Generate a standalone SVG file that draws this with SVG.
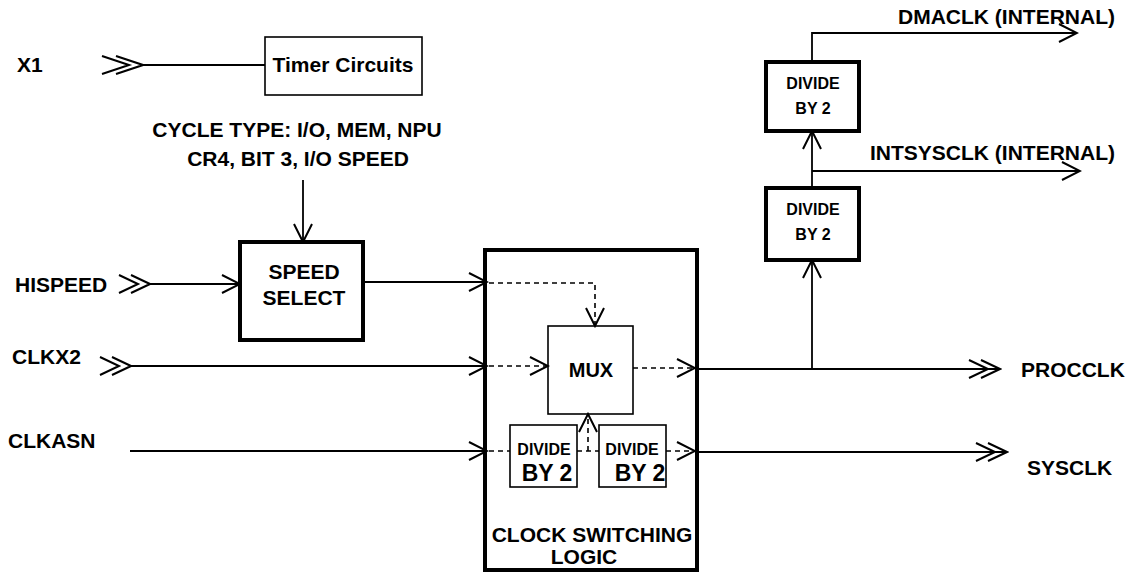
<svg xmlns="http://www.w3.org/2000/svg" width="1133" height="577" viewBox="0 0 1133 577">
<defs>
<style>
text{font-family:"Liberation Sans",Arial,sans-serif;font-weight:bold;fill:#000;font-size:21px}
.m{text-anchor:middle}
.s16{font-size:16px}
.box{fill:#fff;stroke:#000;stroke-width:1.6}
.thick{fill:#fff;stroke:#000;stroke-width:4}
.ln{fill:none;stroke:#000;stroke-width:1.8}
.dash{fill:none;stroke:#000;stroke-width:1.6;stroke-dasharray:5 4}
</style>
<marker id="arr" markerUnits="userSpaceOnUse" viewBox="-21 -11 23 22" refX="0" refY="0" markerWidth="23" markerHeight="22" orient="auto">
<path d="M-18,-9 L0,0 L-18,9" fill="none" stroke="#000" stroke-width="2"/>
</marker>
<marker id="dbl" markerUnits="userSpaceOnUse" viewBox="-34 -11 36 22" refX="0" refY="0" markerWidth="36" markerHeight="22" orient="auto">
<path d="M-31,-9 L-12,0 L-31,9 M-19,-9 L0,0 L-19,9" fill="none" stroke="#000" stroke-width="2"/>
</marker>
<marker id="dblw" markerUnits="userSpaceOnUse" viewBox="-44 -11 46 22" refX="0" refY="0" markerWidth="46" markerHeight="22" orient="auto">
<path d="M-41,-9 L-14,0 L-41,9 M-27,-9 L0,0 L-27,9" fill="none" stroke="#000" stroke-width="2"/>
</marker>
</defs>
<rect width="1133" height="577" fill="#fff"/>

<g id="x1"><text x="17" y="72">X1</text></g>
<g id="timer"><rect class="box" x="265" y="37" width="157" height="58"/><text class="m" x="343" y="72">Timer Circuits</text></g>
<g id="cycle"><text class="m" x="297" y="137">CYCLE TYPE: I/O, MEM, NPU</text><text class="m" x="298" y="166">CR4, BIT 3, I/O SPEED</text></g>
<g id="speed"><rect class="thick" x="240" y="242" width="123" height="98"/><text class="m" x="304" y="279">SPEED</text><text class="m" x="304" y="305">SELECT</text></g>
<g id="hispeed"><text x="15" y="292">HISPEED</text></g>
<g id="clkx2"><text x="12" y="364">CLKX2</text></g>
<g id="clkasn"><text x="8" y="448">CLKASN</text></g>
<g id="csl"><rect class="thick" x="485" y="250" width="212" height="320"/><text class="m" x="592" y="542">CLOCK SWITCHING</text><text class="m" x="584" y="564">LOGIC</text></g>
<g id="mux"><rect class="box" x="548" y="326" width="85" height="88"/><text class="m" x="591" y="377" style="font-size:20px">MUX</text></g>
<g id="div-a"><rect class="box" x="510" y="425" width="67" height="62"/><text class="m s16" x="544" y="455">DIVIDE</text><text class="m" x="547" y="481" style="font-size:23px">BY 2</text></g>
<g id="div-b"><rect class="box" x="599" y="425" width="67" height="62"/><text class="m s16" x="632" y="455">DIVIDE</text><text class="m" x="640" y="481" style="font-size:23px">BY 2</text></g>
<g id="div-up"><rect class="thick" x="766" y="62" width="93" height="69"/><text class="m s16" x="813" y="89">DIVIDE</text><text class="m s16" x="813" y="114">BY 2</text></g>
<g id="div-low"><rect class="thick" x="766" y="188" width="93" height="72"/><text class="m s16" x="813" y="215">DIVIDE</text><text class="m s16" x="813" y="240">BY 2</text></g>
<g id="dmaclk"><text x="898" y="24">DMACLK (INTERNAL)</text></g>
<g id="intsysclk"><text x="870" y="160">INTSYSCLK (INTERNAL)</text></g>
<g id="procclk"><text x="1021" y="377">PROCCLK</text></g>
<g id="sysclk"><text x="1027" y="475">SYSCLK</text></g>

<g id="connectors">
<path class="ln" d="M143,65 H265" marker-start="url(#dblw)"/>
<path class="ln" d="M303,180 V242" marker-end="url(#arr)"/>
<path class="ln" d="M150,284 H240" marker-start="url(#dbl)" marker-end="url(#arr)"/>
<path class="ln" d="M363,282 H487" marker-end="url(#arr)"/>
<path class="ln" d="M131,366 H487" marker-start="url(#dbl)" marker-end="url(#arr)"/>
<path class="ln" d="M130,451 H487" marker-end="url(#arr)"/>
<path class="dash" d="M489,283 H595 V326" marker-end="url(#arr)"/>
<path class="dash" d="M489,366 H548" marker-end="url(#arr)"/>
<path class="dash" d="M633,368 H695" marker-end="url(#arr)"/>
<path class="dash" d="M489,451 H510 M577,451 H599"/>
<path class="dash" d="M666,451 H695" marker-end="url(#arr)"/>
<path class="dash" d="M588,451 V414" marker-end="url(#arr)"/>
<path class="ln" d="M697,369 H1000" marker-end="url(#dbl)"/>
<path class="ln" d="M812,369 V260" marker-end="url(#arr)"/>
<path class="ln" d="M812,188 V131" marker-end="url(#arr)"/>
<path class="ln" d="M812,171 H1080" marker-end="url(#arr)"/>
<path class="ln" d="M812,62 V33 H1077" marker-end="url(#arr)"/>
<path class="ln" d="M697,452 H1007" marker-end="url(#dbl)"/>
</g>
</svg>
